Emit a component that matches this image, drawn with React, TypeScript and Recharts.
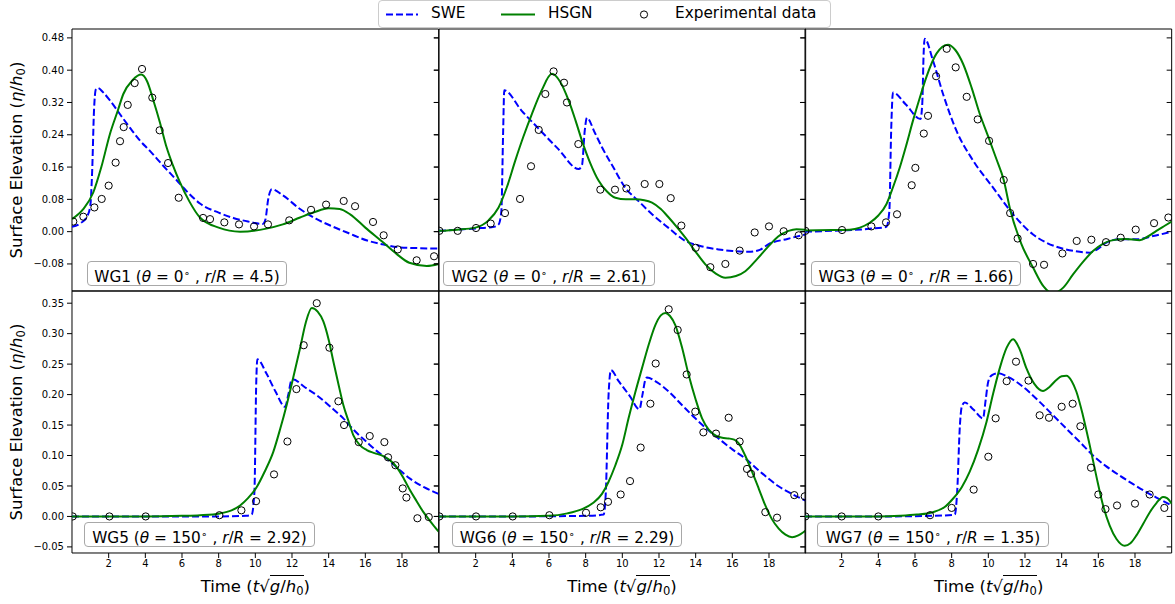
import React from "react";
import { ComposedChart, Line, Scatter, XAxis, YAxis, ReferenceArea } from "recharts";

type Pt = [number, number];

// time axis (t*sqrt(g/h0)) ticks
const TIME_TICKS = [2, 4, 6, 8, 10, 12, 14, 16, 18];
const TOP_TICKS = [-0.08, 0, 0.08, 0.16, 0.24, 0.32, 0.4, 0.48];
const BOTTOM_TICKS = [-0.05, 0, 0.05, 0.1, 0.15, 0.2, 0.25, 0.3, 0.35];

// ---- WG1 ----
const WG1_SWE: Pt[] = [[0, 0.012], [0.5, 0.022], [0.85, 0.04], [1.0, 0.065], [1.1, 0.15], [1.2, 0.3], [1.3, 0.352], [1.4, 0.356], [1.7, 0.345], [2.07, 0.325], [2.6, 0.292], [3.2, 0.255], [3.7, 0.226], [4.25, 0.2], [5.0, 0.162], [5.7, 0.128], [6.3, 0.098], [7.0, 0.069], [8.0, 0.047], [8.8, 0.034], [9.6, 0.025], [10.4, 0.019], [10.55, 0.03], [10.7, 0.08], [10.9, 0.105], [11.5, 0.09], [12.44, 0.056], [13.3, 0.032], [14.25, 0.012], [15.1, -0.004], [16.1, -0.022], [17.0, -0.032], [17.9, -0.039], [19.0, -0.041], [20, -0.042]];
const WG1_HSGN: Pt[] = [[0, 0.031], [0.6, 0.055], [1.16, 0.097], [1.6, 0.16], [2.07, 0.242], [2.5, 0.3], [2.8, 0.341], [3.3, 0.375], [3.78, 0.389], [4.1, 0.372], [4.44, 0.325], [4.8, 0.27], [5.16, 0.209], [5.5, 0.165], [5.89, 0.122], [6.4, 0.075], [6.98, 0.035], [8.0, 0.01], [9.17, 0.0], [10.6, 0.0075], [11.5, 0.018], [12.44, 0.035], [13.2, 0.048], [14.0, 0.058], [14.6, 0.056], [15.17, 0.043], [16.0, 0.01], [16.98, -0.027], [17.7, -0.055], [18.4, -0.077], [19.35, -0.085], [20, -0.08]];
const WG1_EXP: Pt[] = [[0.07, 0.025], [0.62, 0.037], [1.22, 0.06], [1.62, 0.081], [2.0, 0.114], [2.38, 0.171], [2.62, 0.224], [2.82, 0.259], [3.04, 0.314], [3.42, 0.368], [3.82, 0.403], [4.38, 0.332], [4.78, 0.251], [5.24, 0.17], [5.82, 0.084], [7.15, 0.034], [7.53, 0.031], [8.31, 0.023], [9.11, 0.018], [9.93, 0.013], [10.69, 0.018], [11.85, 0.028], [13.04, 0.054], [13.86, 0.067], [14.82, 0.076], [15.44, 0.063], [16.42, 0.024], [17.0, -0.009], [17.77, -0.044], [18.8, -0.071], [19.75, -0.061]];

// ---- WG2 ----
const WG2_SWE: Pt[] = [[0, 0.002], [1, 0.005], [2, 0.008], [3, 0.012], [3.25, 0.018], [3.4, 0.05], [3.5, 0.25], [3.56, 0.35], [4.5, 0.3], [5.5, 0.252], [6.5, 0.205], [7.62, 0.155], [7.8, 0.165], [7.95, 0.25], [8.07, 0.282], [8.5, 0.245], [8.89, 0.209], [9.5, 0.16], [10.16, 0.109], [10.9, 0.075], [11.62, 0.043], [12.5, 0.01], [13.44, -0.023], [14.3, -0.036], [15.25, -0.044], [16.0, -0.048], [16.89, -0.05], [17.5, -0.045], [17.98, -0.031], [19.0, -0.018], [20, -0.007]];
const WG2_HSGN: Pt[] = [[0, 0.002], [1, 0.005], [1.98, 0.01], [2.7, 0.028], [3.25, 0.06], [3.7, 0.11], [4.16, 0.176], [4.6, 0.235], [5.07, 0.292], [5.6, 0.35], [6.16, 0.391], [6.6, 0.372], [7.07, 0.325], [7.45, 0.275], [7.8, 0.225], [8.25, 0.17], [8.71, 0.126], [9.15, 0.1], [9.62, 0.084], [10.2, 0.08], [10.71, 0.08], [11.2, 0.078], [11.62, 0.072], [12.1, 0.056], [12.53, 0.035], [13.0, 0.01], [13.44, -0.015], [14.0, -0.05], [14.53, -0.081], [15.1, -0.104], [15.62, -0.114], [16.2, -0.11], [16.71, -0.098], [17.35, -0.068], [17.98, -0.036], [18.5, -0.012], [19.07, 0.002], [19.5, 0.006], [20, 0.005]];
const WG2_EXP: Pt[] = [[0.02, 0.002], [1.02, 0.002], [2.02, 0.009], [2.82, 0.02], [3.6, 0.046], [4.42, 0.081], [5.02, 0.162], [5.44, 0.252], [5.8, 0.341], [6.25, 0.397], [6.82, 0.369], [6.98, 0.32], [7.6, 0.217], [8.8, 0.104], [9.6, 0.104], [10.22, 0.107], [11.22, 0.118], [12.02, 0.118], [12.64, 0.083], [13.22, 0.015], [14.0, -0.04], [14.8, -0.088], [15.62, -0.08], [16.4, -0.047], [17.22, -0.002], [18.0, 0.013], [18.8, 0.001], [19.62, -0.009]];

// ---- WG3 ----
const WG3_SWE: Pt[] = [[0, 0.0], [2, 0.003], [3.5, 0.007], [4.44, 0.012], [4.6, 0.05], [4.7, 0.25], [4.8, 0.345], [5.5, 0.315], [6.3, 0.279], [6.4, 0.32], [6.47, 0.44], [6.53, 0.478], [6.98, 0.424], [7.53, 0.341], [8.26, 0.25], [9.17, 0.176], [10.26, 0.109], [11.35, 0.043], [12.44, -0.007], [13.2, -0.028], [13.9, -0.04], [14.7, -0.048], [15.53, -0.052], [16.0, -0.042], [16.44, -0.027], [17.17, -0.019], [18.08, -0.019], [18.99, -0.011], [20, 0.0]];
const WG3_HSGN: Pt[] = [[0, 0.003], [1.5, 0.004], [2.44, 0.005], [3.0, 0.01], [3.53, 0.022], [4.0, 0.04], [4.44, 0.068], [4.8, 0.11], [5.17, 0.159], [5.53, 0.215], [5.89, 0.275], [6.25, 0.33], [6.62, 0.383], [7.17, 0.441], [7.8, 0.463], [8.2, 0.45], [8.62, 0.416], [9.1, 0.355], [9.53, 0.292], [10.0, 0.235], [10.44, 0.18], [10.84, 0.128], [11.19, 0.055], [11.8, -0.03], [12.44, -0.089], [13.0, -0.135], [13.53, -0.153], [14.1, -0.138], [14.62, -0.106], [15.2, -0.073], [15.71, -0.048], [16.25, -0.03], [16.8, -0.021], [17.5, -0.018], [18.26, -0.021], [18.7, -0.012], [19.17, 0.002], [19.6, 0.014], [20, 0.025]];
const WG3_EXP: Pt[] = [[0.02, 0.002], [2.02, 0.004], [3.62, 0.013], [4.42, 0.023], [5.02, 0.043], [5.82, 0.115], [6.02, 0.158], [6.48, 0.243], [6.71, 0.287], [7.15, 0.385], [7.73, 0.453], [8.22, 0.407], [8.82, 0.334], [9.42, 0.278], [10.04, 0.225], [10.84, 0.128], [11.19, 0.046], [11.6, -0.017], [12.44, -0.08], [13.04, -0.082], [14.04, -0.054], [14.82, -0.023], [15.62, -0.02], [16.42, -0.026], [17.22, -0.015], [18.04, 0.005], [19.04, 0.021], [19.82, 0.035]];

// ---- WG5 ----
const WG5_SWE: Pt[] = [[0, 0], [4, 0], [8, 0], [9.5, 0.001], [9.8, 0.003], [9.95, 0.04], [10.05, 0.22], [10.11, 0.258], [10.6, 0.235], [11.1, 0.205], [11.62, 0.18], [11.8, 0.2], [11.95, 0.222], [12.04, 0.225], [12.7, 0.212], [13.35, 0.199], [14.1, 0.18], [14.8, 0.161], [15.4, 0.141], [16.08, 0.122], [16.6, 0.108], [17.17, 0.095], [17.8, 0.078], [18.44, 0.062], [19.2, 0.048], [20, 0.037]];
const WG5_HSGN: Pt[] = [[0, 0], [4, 0], [6, 0.001], [6.98, 0.002], [8.07, 0.005], [8.7, 0.01], [9.17, 0.018], [9.6, 0.03], [10.07, 0.048], [10.5, 0.073], [10.98, 0.106], [11.35, 0.143], [11.71, 0.183], [12.1, 0.232], [12.44, 0.276], [12.75, 0.318], [13.08, 0.342], [13.4, 0.336], [13.71, 0.32], [14.0, 0.29], [14.26, 0.254], [14.55, 0.215], [14.8, 0.183], [15.1, 0.155], [15.35, 0.133], [15.7, 0.117], [16.08, 0.109], [16.5, 0.104], [16.98, 0.099], [17.35, 0.092], [17.71, 0.081], [18.1, 0.062], [18.44, 0.043], [18.8, 0.025], [19.17, 0.007], [19.6, -0.01], [20, -0.025]];
const WG5_EXP: Pt[] = [[0.04, 0], [2.04, 0], [4.02, 0], [8.04, 0.002], [9.24, 0.01], [10.04, 0.025], [11.02, 0.069], [11.75, 0.123], [12.24, 0.209], [12.64, 0.281], [13.35, 0.35], [14.04, 0.277], [14.53, 0.189], [14.84, 0.15], [15.64, 0.122], [16.24, 0.132], [17.04, 0.122], [17.24, 0.097], [17.64, 0.084], [18.04, 0.046], [18.24, 0.031], [18.84, -0.003], [19.46, -0.001]];

// ---- WG6 ----
const WG6_SWE: Pt[] = [[0, 0], [4, 0], [8, 0.001], [8.98, 0.003], [9.1, 0.04], [9.25, 0.2], [9.38, 0.24], [9.8, 0.222], [10.4, 0.198], [10.93, 0.176], [11.1, 0.2], [11.25, 0.224], [11.35, 0.228], [11.9, 0.22], [12.53, 0.205], [13.25, 0.183], [13.98, 0.161], [14.6, 0.144], [15.25, 0.128], [16.0, 0.11], [16.71, 0.095], [17.35, 0.078], [17.98, 0.062], [18.5, 0.05], [19.07, 0.04], [19.5, 0.033], [20, 0.026]];
const WG6_HSGN: Pt[] = [[0, 0], [4, 0], [5.98, 0.001], [7.0, 0.005], [7.8, 0.012], [8.4, 0.022], [8.89, 0.037], [9.25, 0.057], [9.62, 0.084], [10.0, 0.118], [10.34, 0.161], [10.7, 0.203], [11.07, 0.243], [11.45, 0.283], [11.8, 0.314], [12.1, 0.33], [12.35, 0.334], [12.6, 0.329], [12.89, 0.314], [13.25, 0.278], [13.62, 0.232], [14.0, 0.192], [14.35, 0.161], [14.7, 0.143], [15.07, 0.133], [15.45, 0.129], [15.8, 0.128], [16.1, 0.126], [16.35, 0.12], [16.7, 0.1], [17.08, 0.073], [17.45, 0.045], [17.8, 0.018], [18.15, -0.004], [18.53, -0.02], [18.9, -0.03], [19.26, -0.034], [19.6, -0.031], [20, -0.023]];
const WG6_EXP: Pt[] = [[0.02, 0], [2.02, 0], [4.02, 0], [6.02, 0.002], [8.02, 0.006], [8.82, 0.015], [9.22, 0.024], [9.91, 0.036], [10.42, 0.058], [11.0, 0.113], [11.53, 0.185], [11.82, 0.251], [12.53, 0.34], [13.02, 0.306], [13.51, 0.233], [13.98, 0.172], [14.42, 0.138], [15.11, 0.136], [15.8, 0.162], [16.4, 0.123], [16.8, 0.078], [17.02, 0.07], [17.8, 0.007], [18.44, -0.002], [19.38, 0.035], [19.95, 0.033]];

// ---- WG7 ----
const WG7_SWE: Pt[] = [[0, 0], [4, 0], [7, 0.001], [8.17, 0.003], [8.3, 0.04], [8.45, 0.15], [8.55, 0.18], [8.71, 0.187], [9.2, 0.175], [9.71, 0.161], [9.85, 0.19], [10.0, 0.222], [10.2, 0.232], [10.53, 0.235], [11.0, 0.23], [11.53, 0.221], [12.2, 0.205], [12.8, 0.188], [13.5, 0.167], [14.26, 0.144], [15.0, 0.122], [15.71, 0.1], [16.4, 0.083], [17.17, 0.067], [17.9, 0.053], [18.62, 0.04], [19.3, 0.029], [20, 0.018]];
const WG7_HSGN: Pt[] = [[0, 0], [4, 0], [5.17, 0.001], [6.1, 0.003], [6.98, 0.007], [7.6, 0.015], [8.07, 0.029], [8.55, 0.048], [8.98, 0.073], [9.45, 0.11], [9.9, 0.155], [10.25, 0.2], [10.62, 0.243], [11.0, 0.277], [11.35, 0.291], [11.7, 0.275], [12.08, 0.243], [12.5, 0.218], [12.98, 0.206], [13.35, 0.213], [13.71, 0.224], [14.0, 0.23], [14.26, 0.231], [14.55, 0.222], [14.8, 0.205], [15.15, 0.167], [15.53, 0.117], [15.9, 0.065], [16.26, 0.018], [16.62, -0.015], [16.99, -0.037], [17.44, -0.048], [17.75, -0.044], [18.08, -0.031], [18.45, -0.012], [18.81, 0.007], [19.17, 0.022], [19.53, 0.032], [19.75, 0.03], [20, 0.021]];
const WG7_EXP: Pt[] = [[0.02, 0], [2.0, 0], [4.0, 0], [6.82, 0.002], [8.0, 0.014], [9.2, 0.044], [10.0, 0.098], [10.4, 0.161], [11.0, 0.222], [11.51, 0.254], [12.19, 0.223], [12.8, 0.166], [13.31, 0.162], [14.0, 0.18], [14.6, 0.185], [15.02, 0.148], [15.6, 0.08], [16.0, 0.036], [16.39, 0.012], [17.02, 0.018], [18.0, 0.021], [18.8, 0.036], [19.6, 0.014]];

const GAUGES = [
  { name: "WG1", theta: "0", rR: "4.5", swe: WG1_SWE, hsgn: WG1_HSGN, exp: WG1_EXP },
  { name: "WG2", theta: "0", rR: "2.61", swe: WG2_SWE, hsgn: WG2_HSGN, exp: WG2_EXP },
  { name: "WG3", theta: "0", rR: "1.66", swe: WG3_SWE, hsgn: WG3_HSGN, exp: WG3_EXP },
  { name: "WG5", theta: "150", rR: "2.92", swe: WG5_SWE, hsgn: WG5_HSGN, exp: WG5_EXP },
  { name: "WG6", theta: "150", rR: "2.29", swe: WG6_SWE, hsgn: WG6_HSGN, exp: WG6_EXP },
  { name: "WG7", theta: "150", rR: "1.35", swe: WG7_SWE, hsgn: WG7_HSGN, exp: WG7_EXP },
];

// layout (px)
const COL_X = [72, 438.67, 805.33];
const COL_W = 366.67;
const ROW_Y = [29, 291];
const ROW_H = 262;
const Y_DOMAIN: [number, number][] = [[-0.147, 0.502], [-0.06, 0.37]];
const BOXES = [
  { left: 87, width: 200 }, { left: 443, width: 212 }, { left: 811, width: 210 },
  { left: 84, width: 231 }, { left: 452, width: 230 }, { left: 817, width: 232 },
];
const BOX_TOP = [261, 522];

const PAD_L = 70;
const PAD_T = 6;
const PAD_R = 6;
const AX_H = 40;

const SWE_COLOR = "#0000ff";
const HSGN_COLOR = "#008000";

const toXY = (pts: Pt[]) => pts.map(([t, v]) => ({ t, v }));
const fmtTick = (v: number) => (v < 0 ? "\u2212" : "") + Math.abs(v).toFixed(2);

const Ring = (p: any) => <circle cx={p.cx} cy={p.cy} r={3.6} fill="none" stroke="#000" strokeWidth={1} />;

function Panel({ g, i }: { g: (typeof GAUGES)[number]; i: number }) {
  const row = Math.floor(i / 3);
  const col = i % 3;
  const [lo, hi] = Y_DOMAIN[row];
  const ticks = row === 0 ? TOP_TICKS : BOTTOM_TICKS;
  const tickStyle = { fontSize: 10, fill: "#000" };
  return (
    <div style={{ position: "absolute", left: COL_X[col] - PAD_L, top: ROW_Y[row] - PAD_T }}>
      <ComposedChart width={PAD_L + COL_W + PAD_R} height={ROW_H + PAD_T + AX_H} margin={{ top: PAD_T, right: PAD_R, bottom: 0, left: 0 }}>
        <XAxis
          type="number"
          dataKey="t"
          domain={[0, 20]}
          ticks={TIME_TICKS}
          interval={0}
          allowDataOverflow
          height={AX_H}
          tickSize={5}
          tickMargin={2}
          axisLine={false}
          tick={row === 1 ? tickStyle : false}
          tickLine={row === 1 ? { stroke: "#000" } : false}
        />
        <YAxis
          yAxisId="l"
          type="number"
          dataKey="v"
          domain={[lo, hi]}
          ticks={ticks}
          interval={0}
          allowDataOverflow
          width={PAD_L}
          tickSize={5}
          tickMargin={3}
          axisLine={false}
          tickLine={{ stroke: "#000" }}
          tick={tickStyle}
          tickFormatter={(v: number) => (col === 0 ? fmtTick(v) : "")}
        />
        {/* mirrored right axis: inward ticks, takes no room */}
        <YAxis
          yAxisId="r"
          orientation="right"
          type="number"
          domain={[lo, hi]}
          ticks={ticks}
          interval={0}
          allowDataOverflow
          mirror
          width={PAD_R}
          tickSize={5}
          axisLine={false}
          tickLine={{ stroke: "#000" }}
          tick={tickStyle}
          tickFormatter={() => ""}
        />
        <ReferenceArea yAxisId="l" x1={0} x2={20} y1={lo} y2={hi} fill="none" stroke="#000" strokeWidth={1} />
        <Line yAxisId="l" data={toXY(g.swe)} dataKey="v" type="monotone" stroke={SWE_COLOR} strokeWidth={2} strokeDasharray="7 3" dot={false} activeDot={false} isAnimationActive={false} />
        <Line yAxisId="l" data={toXY(g.hsgn)} dataKey="v" type="monotone" stroke={HSGN_COLOR} strokeWidth={2} dot={false} activeDot={false} isAnimationActive={false} />
        <Scatter yAxisId="l" data={toXY(g.exp)} dataKey="v" shape={Ring} isAnimationActive={false} />
      </ComposedChart>
    </div>
  );
}

const Sub0 = () => <span style={{ fontSize: "0.7em", verticalAlign: "-0.25em", fontStyle: "normal" }}>0</span>;

function GaugeLabel({ g, i }: { g: (typeof GAUGES)[number]; i: number }) {
  const row = Math.floor(i / 3);
  const b = BOXES[i];
  return (
    <div
      style={{
        position: "absolute",
        left: b.left,
        top: BOX_TOP[row],
        width: b.width,
        height: 25,
        boxSizing: "border-box",
        border: "1px solid #a8a8a8",
        borderRadius: 4,
        background: "rgba(255,255,255,0.85)",
        fontSize: 15.3,
        lineHeight: "23px",
        textAlign: "center",
        whiteSpace: "nowrap",
      }}
    >
      {g.name} (<i>θ</i> = {g.theta}
      <span style={{ fontSize: "0.7em", verticalAlign: "0.5em" }}>∘</span> , <i>r</i>/<i>R</i> = {g.rR})
    </div>
  );
}

function Legend() {
  return (
    <div
      style={{
        position: "absolute",
        left: 378,
        top: 0,
        width: 453,
        height: 28,
        boxSizing: "border-box",
        border: "1px solid #cccccc",
        borderRadius: 4,
        background: "#fff",
        fontSize: 15.3,
      }}
    >
      <svg width={453} height={28} style={{ position: "absolute", left: 0, top: 0 }}>
        <line x1={7} y1={13.5} x2={39} y2={13.5} stroke={SWE_COLOR} strokeWidth={2} strokeDasharray="7 3" />
        <line x1={122} y1={13.5} x2={156} y2={13.5} stroke={HSGN_COLOR} strokeWidth={2} />
        <circle cx={265} cy={13.5} r={3.6} fill="none" stroke="#000" strokeWidth={1} />
      </svg>
      <span style={{ position: "absolute", left: 52, top: 3 }}>SWE</span>
      <span style={{ position: "absolute", left: 169, top: 3 }}>HSGN</span>
      <span style={{ position: "absolute", left: 296, top: 3 }}>Experimental data</span>
    </div>
  );
}

function YLabel({ row }: { row: number }) {
  const cy = ROW_Y[row] + ROW_H / 2;
  return (
    <div
      style={{
        position: "absolute",
        left: 17 - 150,
        top: cy - 11,
        width: 300,
        height: 22,
        lineHeight: "22px",
        textAlign: "center",
        fontSize: 16.5,
        transform: "rotate(-90deg)",
        whiteSpace: "nowrap",
      }}
    >
      Surface Elevation (<i>η</i>/<i>h</i>
      <Sub0 />)
    </div>
  );
}

function XLabel({ col }: { col: number }) {
  const cx = COL_X[col] + COL_W / 2;
  return (
    <div
      style={{
        position: "absolute",
        left: cx - 100,
        top: 575,
        width: 200,
        height: 24,
        lineHeight: "24px",
        textAlign: "center",
        fontSize: 16.5,
        whiteSpace: "nowrap",
      }}
    >
      Time (<i>t</i>√<span style={{ borderTop: "1.2px solid #000", paddingTop: 1 }}><i>g</i>/<i>h</i><Sub0 /></span>)
    </div>
  );
}

export default function App() {
  return (
    <div
      style={{
        position: "absolute",
        left: 0,
        top: 0,
        width: 1175,
        height: 604,
        background: "#fff",
        overflow: "hidden",
        fontFamily: '"DejaVu Sans", sans-serif',
        color: "#000",
      }}
    >
      {GAUGES.map((g, i) => (
        <Panel key={g.name} g={g} i={i} />
      ))}
      {GAUGES.map((g, i) => (
        <GaugeLabel key={g.name + "-lbl"} g={g} i={i} />
      ))}
      <Legend />
      <YLabel row={0} />
      <YLabel row={1} />
      <XLabel col={0} />
      <XLabel col={1} />
      <XLabel col={2} />
    </div>
  );
}
